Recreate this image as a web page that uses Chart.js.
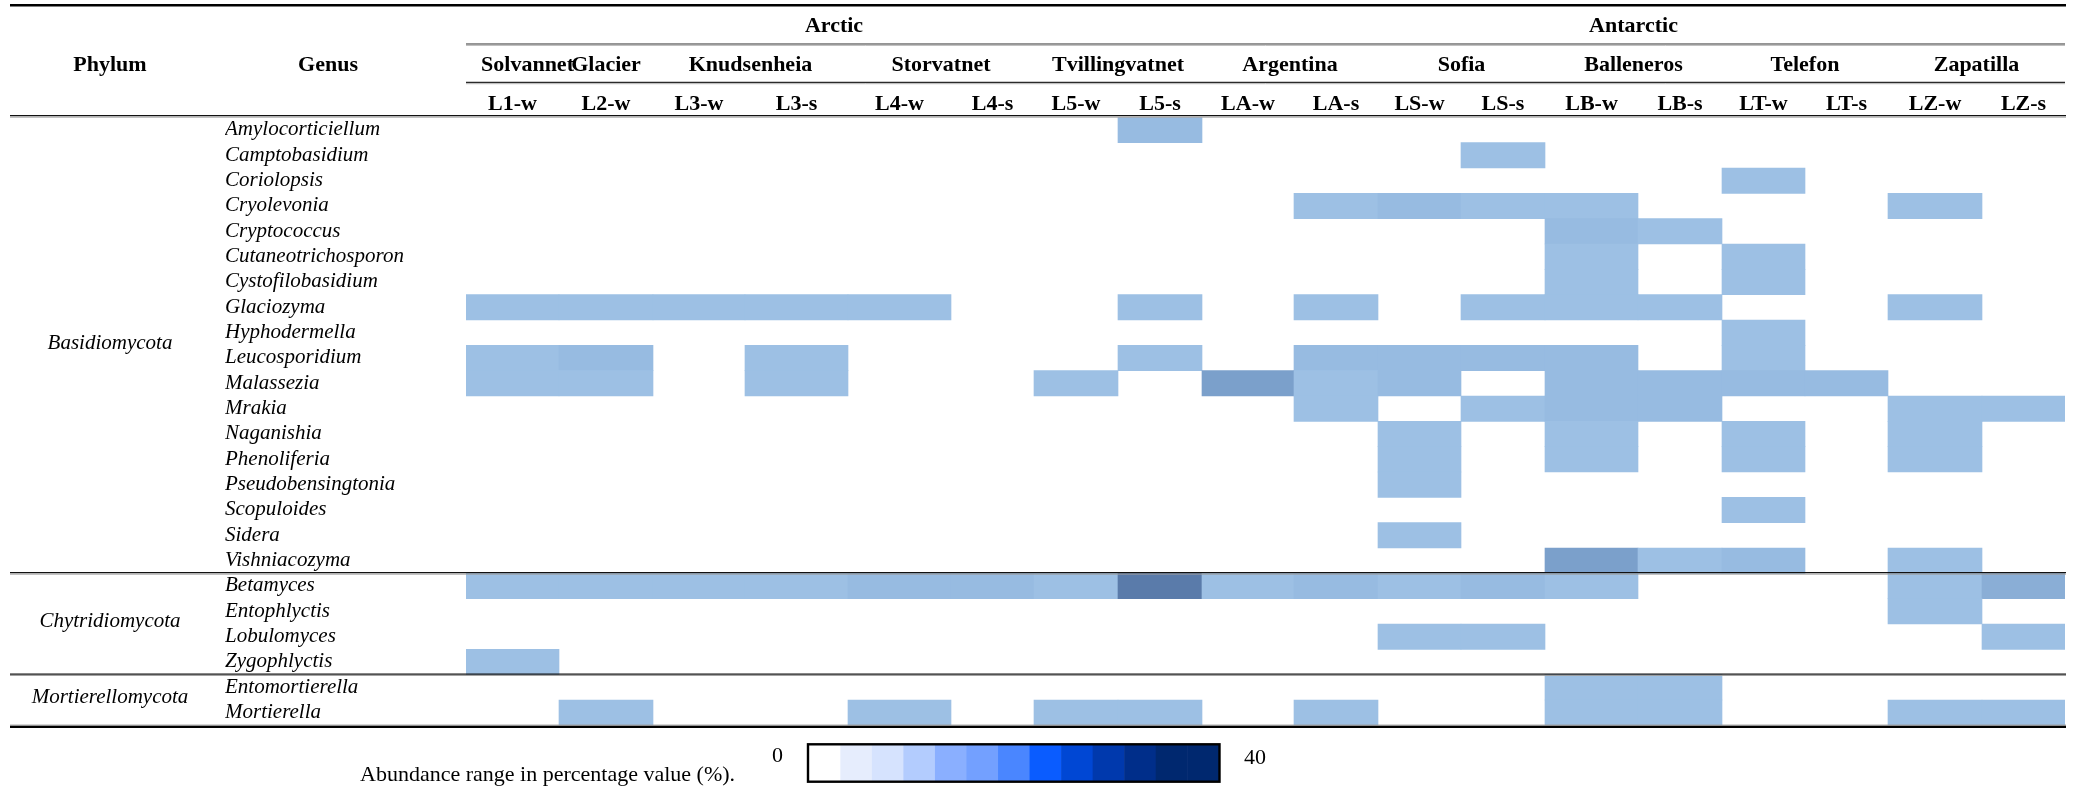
<!DOCTYPE html>
<html>
<head>
<meta charset="utf-8">
<title>Fungal genera abundance by lake sample</title>
<script src="https://cdn.jsdelivr.net/npm/chart.js@4.4.1/dist/chart.umd.min.js"></script>
<style>
  html, body { margin: 0; padding: 0; background: #ffffff; }
  #wrap { position: relative; width: 2078px; height: 798px; }
</style>
</head>
<body>
<div id="wrap"><canvas id="heat"></canvas></div>
<script>
// ---- data ----
const regions = ['Arctic', 'Antarctic'];
const regionSiteCounts = [5, 5];

const sites = ['Solvannet', 'Glacier', 'Knudsenheia', 'Storvatnet', 'Tvillingvatnet',
               'Argentina', 'Sofia', 'Balleneros', 'Telefon', 'Zapatilla'];
const siteSampleCounts = [1, 1, 2, 2, 2, 2, 2, 2, 2, 2];

const samples = ['L1-w', 'L2-w', 'L3-w', 'L3-s', 'L4-w', 'L4-s', 'L5-w', 'L5-s', 'LA-w',
                 'LA-s', 'LS-w', 'LS-s', 'LB-w', 'LB-s', 'LT-w', 'LT-s', 'LZ-w', 'LZ-s'];

const phyla = ['Basidiomycota', 'Chytridiomycota', 'Mortierellomycota'];
const phylumGenusCounts = [18, 4, 2];

const genera = ['Amylocorticiellum', 'Camptobasidium', 'Coriolopsis', 'Cryolevonia', 'Cryptococcus',
  'Cutaneotrichosporon', 'Cystofilobasidium', 'Glaciozyma', 'Hyphodermella', 'Leucosporidium',
  'Malassezia', 'Mrakia', 'Naganishia', 'Phenoliferia', 'Pseudobensingtonia', 'Scopuloides',
  'Sidera', 'Vishniacozyma', 'Betamyces', 'Entophlyctis', 'Lobulomyces', 'Zygophlyctis',
  'Entomortierella', 'Mortierella'];

// relative abundance (%) — one row per genus, one column per sample
const abundance = [
  [0, 0, 0, 0, 0, 0, 0, 3, 0, 0, 0, 0, 0, 0, 0, 0, 0, 0],   // Amylocorticiellum
  [0, 0, 0, 0, 0, 0, 0, 0, 0, 0, 0, 2, 0, 0, 0, 0, 0, 0],   // Camptobasidium
  [0, 0, 0, 0, 0, 0, 0, 0, 0, 0, 0, 0, 0, 0, 2, 0, 0, 0],   // Coriolopsis
  [0, 0, 0, 0, 0, 0, 0, 0, 0, 2, 4, 2, 2, 0, 0, 0, 2, 0],   // Cryolevonia
  [0, 0, 0, 0, 0, 0, 0, 0, 0, 0, 0, 0, 4, 2, 0, 0, 0, 0],   // Cryptococcus
  [0, 0, 0, 0, 0, 0, 0, 0, 0, 0, 0, 0, 2, 0, 2, 0, 0, 0],   // Cutaneotrichosporon
  [0, 0, 0, 0, 0, 0, 0, 0, 0, 0, 0, 0, 2, 0, 2, 0, 0, 0],   // Cystofilobasidium
  [2, 2, 2, 2, 2, 0, 0, 2, 0, 2, 0, 2, 2, 2, 0, 0, 2, 0],   // Glaciozyma
  [0, 0, 0, 0, 0, 0, 0, 0, 0, 0, 0, 0, 0, 0, 2, 0, 0, 0],   // Hyphodermella
  [2, 4, 0, 2, 0, 0, 0, 2, 0, 4, 4, 4, 4, 0, 2, 0, 0, 0],   // Leucosporidium
  [2, 2, 0, 2, 0, 0, 2, 0, 12, 2, 4, 0, 3, 3, 3, 3, 0, 0],  // Malassezia
  [0, 0, 0, 0, 0, 0, 0, 0, 0, 2, 0, 2, 4, 3, 0, 0, 2, 2],   // Mrakia
  [0, 0, 0, 0, 0, 0, 0, 0, 0, 0, 2, 0, 2, 0, 2, 0, 2, 0],   // Naganishia
  [0, 0, 0, 0, 0, 0, 0, 0, 0, 0, 2, 0, 2, 0, 2, 0, 2, 0],   // Phenoliferia
  [0, 0, 0, 0, 0, 0, 0, 0, 0, 0, 2, 0, 0, 0, 0, 0, 0, 0],   // Pseudobensingtonia
  [0, 0, 0, 0, 0, 0, 0, 0, 0, 0, 0, 0, 0, 0, 2, 0, 0, 0],   // Scopuloides
  [0, 0, 0, 0, 0, 0, 0, 0, 0, 0, 2, 0, 0, 0, 0, 0, 0, 0],   // Sidera
  [0, 0, 0, 0, 0, 0, 0, 0, 0, 0, 0, 0, 12, 2, 3, 0, 2, 0],  // Vishniacozyma
  [2, 2, 2, 2, 3, 3, 2, 20, 2, 4, 2, 3, 2, 0, 0, 0, 2, 8],  // Betamyces
  [0, 0, 0, 0, 0, 0, 0, 0, 0, 0, 0, 0, 0, 0, 0, 0, 2, 0],   // Entophlyctis
  [0, 0, 0, 0, 0, 0, 0, 0, 0, 0, 2, 2, 0, 0, 0, 0, 0, 2],   // Lobulomyces
  [2, 0, 0, 0, 0, 0, 0, 0, 0, 0, 0, 0, 0, 0, 0, 0, 0, 0],   // Zygophlyctis
  [0, 0, 0, 0, 0, 0, 0, 0, 0, 0, 0, 0, 2, 2, 0, 0, 0, 0],   // Entomortierella
  [0, 2, 0, 0, 2, 0, 2, 2, 0, 2, 0, 0, 2, 2, 0, 0, 2, 2]    // Mortierella
];

const legendRange = [0, 40];

// ---- layout & styling ----
const SERIF = '"Liberation Serif", "DejaVu Serif", serif';
const columnWidths = [93, 94, 92, 103, 103, 83, 84, 84, 92, 84, 83, 84, 93, 84, 83, 83, 94, 83];
const columnEdges = columnWidths.reduce((acc, w) => { acc.push(acc[acc.length - 1] + w); return acc; }, [0]);
const siteLabelNudge = [15, 0, 0, 0, 0, 0, 0, 0, 0, 0];

const shadeSteps = [[16, '#5A7BAA'], [10, '#7BA0CB'], [6, '#8AAED6'], [3, '#97BBE1'], [0.01, '#9DC0E4']];
function shade(v) {
  for (const [min, colour] of shadeSteps) if (v >= min) return colour;
  return 'rgba(0,0,0,0)';
}
const legendColours = ['#FFFFFF', '#E6EDFD', '#D6E3FE', '#B3CCFE', '#8AAFFF', '#73A0FF', '#4A86FF',
                       '#0A5CFF', '#0047D4', '#0039AD', '#002E8A', '#00286F', '#00286F'];

// sample index where each site starts, and where each region starts
const siteStarts = siteSampleCounts.reduce((acc, n) => { acc.push(acc[acc.length - 1] + n); return acc; }, [0]);
const regionSiteStarts = regionSiteCounts.reduce((acc, n) => { acc.push(acc[acc.length - 1] + n); return acc; }, [0]);

// one floating bar per non-empty cell
const cells = [];
abundance.forEach((row, r) => row.forEach((v, c) => {
  if (v > 0) cells.push({ x: [columnEdges[c], columnEdges[c + 1]], y: genera[r], v });
}));

// header, rules, phylum labels and the colour key
const tableFrame = {
  id: 'tableFrame',
  afterDatasetsDraw(chart) {
    const { ctx, chartArea, scales: { x, y } } = chart;
    const colPx = i => x.getPixelForValue(columnEdges[i]);
    const rowH = y.getPixelForValue(1) - y.getPixelForValue(0);
    const rowTop = i => y.getPixelForValue(i) - rowH / 2;
    const L = 10, R = 2066;

    ctx.save();
    const rule = (yy, w, colour, x0 = L, x1 = R) => {
      ctx.beginPath();
      ctx.strokeStyle = colour;
      ctx.lineWidth = w;
      ctx.moveTo(x0, yy);
      ctx.lineTo(x1, yy);
      ctx.stroke();
    };

    // horizontal rules
    rule(5.3, 2.6, '#000');
    rule(44.0, 1.2, '#2a2a2a', colPx(0), colPx(samples.length));
    rule(45.3, 1, '#b0b0b0', colPx(0), colPx(samples.length));
    rule(82.4, 1.2, '#2a2a2a', colPx(0), colPx(samples.length));
    rule(83.7, 1, '#b0b0b0', colPx(0), colPx(samples.length));
    rule(chartArea.top - 1.6, 1.3, '#111');
    rule(chartArea.top - 0.2, 1, '#9a9a9a');

    // phylum group separators and labels
    let start = 0;
    ctx.font = 'italic 21px ' + SERIF;
    ctx.fillStyle = '#000';
    ctx.textAlign = 'center';
    ctx.textBaseline = 'middle';
    phyla.forEach((name, i) => {
      const top = rowTop(start);
      const bottom = rowTop(start + phylumGenusCounts[i]);
      ctx.fillText(name, 110, (top + bottom) / 2 - 2);
      start += phylumGenusCounts[i];
      if (i < phyla.length - 1) {
        rule(bottom - 0.6, 1.3, '#111');
        rule(bottom + 0.8, 1, '#9a9a9a');
      }
    });
    rule(chartArea.bottom - 0.2, 1, '#9a9a9a');
    rule(chartArea.bottom + 1.6, 2.4, '#000');

    // header text
    ctx.font = 'bold 22px ' + SERIF;
    ctx.textBaseline = 'alphabetic';
    ctx.textAlign = 'center';
    ctx.fillText('Phylum', 110, 70.7);
    ctx.fillText('Genus', 328, 70.7);

    regions.forEach((name, i) => {
      const first = siteStarts[regionSiteStarts[i]];
      const last = siteStarts[regionSiteStarts[i + 1]];
      ctx.fillText(name, (colPx(first) + colPx(last)) / 2, 32.3);
    });

    sites.forEach((name, i) => {
      const cx = (colPx(siteStarts[i]) + colPx(siteStarts[i + 1])) / 2;
      ctx.fillText(name, cx + siteLabelNudge[i], 70.7);
    });

    samples.forEach((name, i) => {
      ctx.fillText(name, (colPx(i) + colPx(i + 1)) / 2, 110);
    });

    // colour key
    const kx = 808, ky = 744.3, kw = 411.5, kh = 37.4;
    const segW = (kw - 1.5) / legendColours.length;
    legendColours.forEach((col, i) => {
      ctx.fillStyle = col;
      ctx.fillRect(kx + 0.8 + i * segW, ky, segW + 0.6, kh);
    });
    ctx.strokeStyle = '#000';
    ctx.lineWidth = 2.4;
    ctx.strokeRect(kx, ky, kw, kh);

    ctx.fillStyle = '#000';
    ctx.font = '22px ' + SERIF;
    ctx.textAlign = 'center';
    ctx.fillText(String(legendRange[0]), 777.5, 761.7);
    ctx.fillText(String(legendRange[1]), 1255, 764);
    ctx.textAlign = 'left';
    ctx.fillText('Abundance range in percentage value (%).', 360, 781);

    ctx.restore();
  }
};

new Chart(document.getElementById('heat'), {
  type: 'bar',
  data: {
    labels: genera,
    datasets: [{
      data: cells,
      backgroundColor: ctx => shade(ctx.raw ? ctx.raw.v : 0),
      borderWidth: 0,
      barPercentage: 1,
      categoryPercentage: 1
    }]
  },
  options: {
    indexAxis: 'y',
    responsive: true,
    maintainAspectRatio: false,
    animation: false,
    devicePixelRatio: 1,
    layout: { padding: { left: 225, right: 13, top: 117.3, bottom: 72.7 } },
    plugins: { legend: { display: false }, tooltip: { enabled: false } },
    scales: {
      x: {
        type: 'linear',
        min: 0,
        max: columnEdges[columnEdges.length - 1],
        display: false
      },
      y: {
        type: 'category',
        labels: genera,
        offset: true,
        grid: { display: false, drawTicks: false },
        border: { display: false },
        ticks: {
          autoSkip: false,
          crossAlign: 'far',
          padding: 0,
          color: '#000',
          font: { family: SERIF, size: 21, style: 'italic' }
        },
        afterFit(scale) { scale.width = 241; }
      }
    }
  },
  plugins: [tableFrame]
});
</script>
</body>
</html>
